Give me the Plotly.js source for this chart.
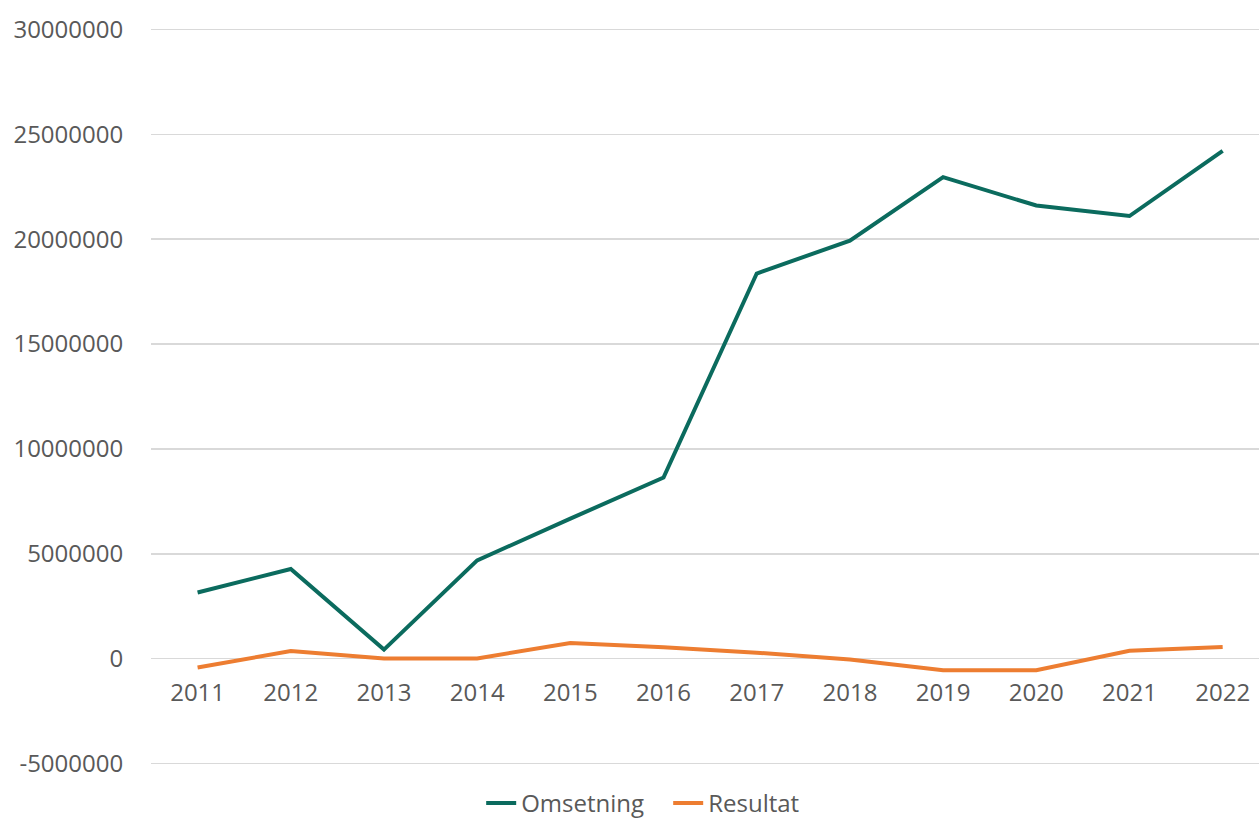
<!DOCTYPE html>
<html>
<head>
<meta charset="utf-8">
<script src="https://cdn.plot.ly/plotly-3.0.1.min.js"></script>
<style>html,body{margin:0;padding:0;background:#fff;}#chart{width:1259px;height:823px;}</style>
</head>
<body>
<div id="chart"></div>
<script>
const years = ["2011","2012","2013","2014","2015","2016","2017","2018","2019","2020","2021","2022"];
const omsetning = [3160000, 4280000, 440000, 4690000, 6680000, 8640000, 18360000, 19930000, 22950000, 21600000, 21100000, 24200000];
const resultat = [-410000, 370000, 20000, 20000, 750000, 550000, 290000, -30000, -540000, -540000, 380000, 560000];
const yTicks = [-5000000, 0, 5000000, 10000000, 15000000, 20000000, 25000000, 30000000];
const yTickText = ["-5000000","0","5000000","10000000","15000000","20000000","25000000","30000000"];

const font = {family: "Open Sans, sans-serif", size: 24, color: "#595959"};
const traces = [
  {x: years, y: omsetning, name: "Omsetning", type: "scatter", mode: "lines",
   line: {color: "#0B6B5E", width: 4}},
  {x: years, y: resultat, name: "Resultat", type: "scatter", mode: "lines",
   line: {color: "#ED7D31", width: 4}}
];
const yMin = -5060000, yMax = 30060000;
const layout = {
  width: 1259, height: 823,
  margin: {l: 151, r: 0, t: 28, b: 58, autoexpand: false},
  paper_bgcolor: "#fff", plot_bgcolor: "#fff",
  font: font,
  showlegend: true,
  legend: {orientation: "h", x: 0.298, xanchor: "left", y: -0.052, yanchor: "middle",
           font: font, entrywidth: 142, entrywidthmode: "pixels"},
  xaxis: {type: "category", range: [-0.5, 11.39], anchor: "free", position: (0 - yMin) / (yMax - yMin),
          showgrid: false, showline: false, zeroline: false,
          ticks: "outside", ticklen: 12, tickcolor: "rgba(0,0,0,0)",
          tickfont: font, fixedrange: true},
  yaxis: {range: [yMin, yMax], tickvals: yTicks, ticktext: yTickText,
          showgrid: true, gridcolor: "#D9D9D9", gridwidth: 1.3, zeroline: false,
          showline: false, ticks: "outside", ticklen: 22, tickcolor: "rgba(0,0,0,0)",
          tickfont: font, fixedrange: true}
};
Plotly.newPlot("chart", traces, layout, {displayModeBar: false, staticPlot: true});
</script>
</body>
</html>
